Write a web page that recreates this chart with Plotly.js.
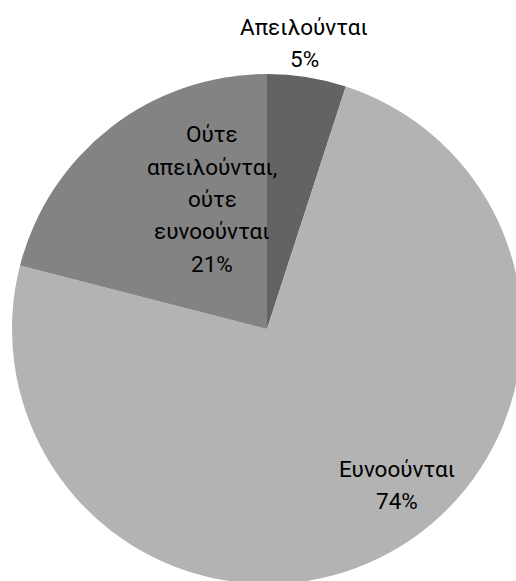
<!DOCTYPE html>
<html>
<head>
<meta charset="utf-8">
<script src="https://cdn.plot.ly/plotly-3.0.1.min.js"></script>
<style>
html,body{margin:0;padding:0;overflow:hidden;background:#fff;}
#chart{width:540px;height:600px;}
</style>
</head>
<body>
<div id="chart"></div>
<script>
// Data
const categories = ["Απειλούνται", "Ευνοούνται", "Ούτε απειλούνται, ούτε ευνοούνται"];
const labelLines = [["Απειλούνται"], ["Ευνοούνται"], ["Ούτε", "απειλούνται,", "ούτε", "ευνοούνται"]];
const values = [5, 74, 21];
const colors = ["#636363", "#b3b3b3", "#838383"];

// label block centres (pixels in the 540x600 layout)
const labelPos = [[304, 43], [397, 485], [212, 199]];

const W = 540, H = 600;
const cx = 267, cy = 329, r = 255;
const total = values.reduce((a, b) => a + b, 0);

const font = {family: "Roboto, 'Noto Sans', sans-serif", size: 22.5, color: "#000"};
const lineH = 32.5;

const annotations = [];
categories.forEach((c, i) => {
  const lines = labelLines[i].concat([Math.round(values[i] / total * 100) + "%"]);
  const n = lines.length;
  lines.forEach((t, k) => {
    const py = labelPos[i][1] + (k - (n - 1) / 2) * lineH;
    annotations.push({
      text: t, showarrow: false, xref: "paper", yref: "paper",
      x: labelPos[i][0] / W, y: 1 - py / H, xanchor: "center", yanchor: "middle",
      font: font
    });
  });
});

const trace = {
  type: "pie",
  labels: categories,
  values: values,
  marker: {colors: colors, line: {width: 0}},
  sort: false,
  direction: "clockwise",
  rotation: 0,
  textinfo: "none",
  hoverinfo: "label+percent",
  domain: {x: [(cx - r) / W, (cx + r) / W], y: [1 - (cy + r) / H, 1 - (cy - r) / H]},
  showlegend: false
};

Plotly.newPlot("chart", [trace], {
  width: W, height: H,
  margin: {l: 0, r: 0, t: 0, b: 0},
  paper_bgcolor: "#fff",
  showlegend: false,
  annotations: annotations
}, {displayModeBar: false, staticPlot: true});
</script>
</body>
</html>
